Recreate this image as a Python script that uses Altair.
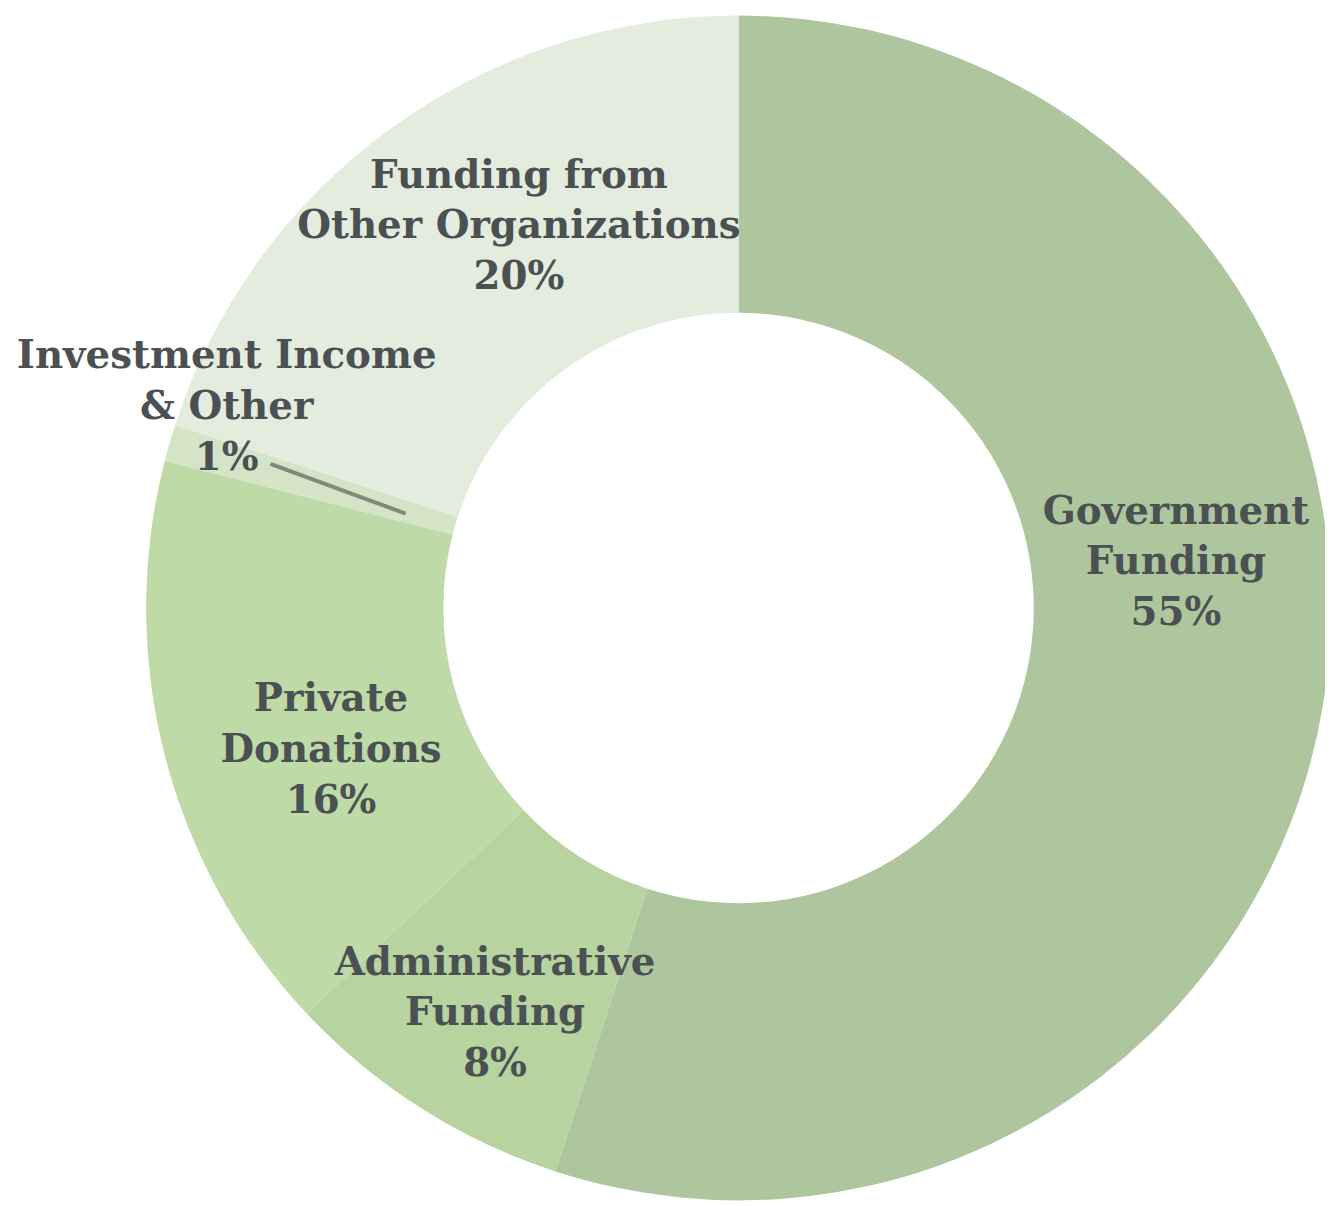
import altair as alt
import pandas as pd

# data
categories = ["Government Funding", "Administrative Funding", "Private Donations",
              "Investment Income & Other", "Funding from Other Organizations"]
values = [55, 8, 16, 1, 20]
label_lines = ["Government\nFunding", "Administrative\nFunding", "Private\nDonations",
               "Investment Income\n& Other", "Funding from\nOther Organizations"]
colors = ["#aec69d", "#b6d3a0", "#bedba7", "#d3e5c6", "#e4ecde"]

# layout (pixels)
W, H = 1325, 1198
CX, CY = 735, 600
R_OUT, R_IN = 596, 297
LINE_H = 51
label_dx = [440, -245, -410, -515, -221]
label_dy = [-46, 408, 143, -202, -384]
leader = [(-471, -145), (-335, -95)]

df = pd.DataFrame({"cat": categories, "val": values, "ord": list(range(len(values)))})
labels = pd.DataFrame({
    "txt": [f"{l}\n{v}%" for l, v in zip(label_lines, values)],
    "x": [CX + d for d in label_dx],
    "y": [CY + d - LINE_H for d in label_dy],
})
lead = pd.DataFrame({"x": [CX + leader[0][0]], "y": [CY + leader[0][1]],
                     "x2": [CX + leader[1][0]], "y2": [CY + leader[1][1]]})

xs = alt.Scale(domain=[0, W], range=[0, W])
ys = alt.Scale(domain=[0, H], range=[0, H])

arc = alt.Chart(df).mark_arc(innerRadius=R_IN, outerRadius=R_OUT).encode(
    theta=alt.Theta("val:Q", stack=True),
    order=alt.Order("ord:Q", sort="ascending"),
    color=alt.Color("cat:N", scale=alt.Scale(domain=categories, range=colors), legend=None),
    x=alt.value(CX), y=alt.value(CY),
)

rule = alt.Chart(lead).mark_rule(color="#7f8a7b", strokeWidth=4).encode(
    x=alt.X("x:Q", scale=xs, axis=None), y=alt.Y("y:Q", scale=ys, axis=None),
    x2="x2:Q", y2="y2:Q",
)

text = alt.Chart(labels).mark_text(
    font="DejaVu Serif", fontWeight="bold", fontSize=39, lineHeight=LINE_H,
    color="#4b5053", align="center", baseline="middle", lineBreak="\n",
).encode(
    x=alt.X("x:Q", scale=xs, axis=None), y=alt.Y("y:Q", scale=ys, axis=None),
    text="txt:N",
)

chart = alt.layer(arc, rule, text).properties(
    width=W, height=H, autosize=alt.AutoSizeParams(type="none"), padding=0,
).configure_view(stroke=None).resolve_scale(x="shared", y="shared")

chart.save("out.html", embed_options={"renderer": "svg", "actions": False})
